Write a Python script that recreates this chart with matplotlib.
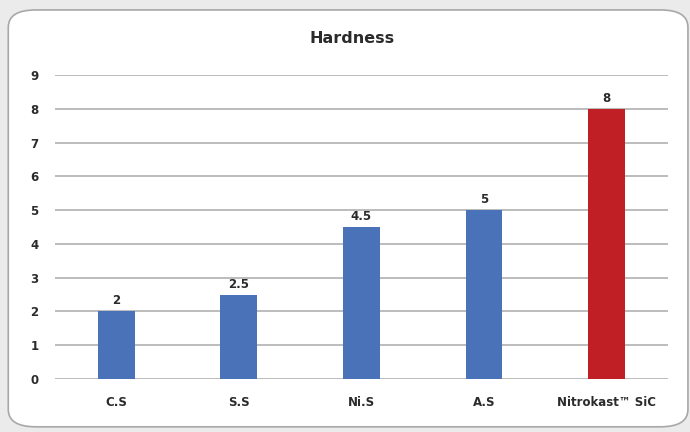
import matplotlib
matplotlib.use("Agg")
import matplotlib.pyplot as plt
from matplotlib.patches import FancyBboxPatch

plt.rcParams['font.family'] = ['DejaVu Sans']

categories = ["C.S", "S.S", "Ni.S", "A.S", "Nitrokast\u2122 SiC"]
hardness = [2, 2.5, 4.5, 5, 8]
value_labels = ["2", "2.5", "4.5", "5", "8"]
bar_colors = ["#4a72b8", "#4a72b8", "#4a72b8", "#4a72b8", "#c01f26"]

fig = plt.figure(figsize=(6.9, 4.32), dpi=100)
fig.patch.set_facecolor("#ebebeb")

# rounded white panel behind the chart
panel = FancyBboxPatch((0.012, 0.012), 0.985, 0.965,
                       boxstyle="round,pad=0,rounding_size=0.04",
                       transform=fig.transFigure, facecolor="white",
                       edgecolor="#a8a8a8", linewidth=1.2, zorder=-1)
fig.patches.append(panel)

ax = fig.add_axes([0.0797, 0.1227, 0.8883, 0.7033])
ax.set_zorder(1)
ax.set_facecolor("none")
x = range(len(categories))
bars = ax.bar(x, hardness, width=0.3, color=bar_colors, zorder=3)

for b, lab in zip(bars, value_labels):
    ax.text(b.get_x() + b.get_width() / 2, b.get_height() + 0.12, lab,
            ha="center", va="bottom", fontsize=8.5, fontweight="bold",
            color="#2b2b2b")

ax.set_xlim(-0.5, len(categories) - 0.5)
ax.set_ylim(0, 9)
ax.set_yticks(range(0, 10))
ax.yaxis.grid(True, color="#b0b0b0", linewidth=1.2, zorder=0)
ax.set_axisbelow(True)
for s in ax.spines.values():
    s.set_visible(False)
ax.tick_params(axis="both", length=0, labelsize=8.5, colors="#2b2b2b")
ax.tick_params(axis="y", pad=12)
ax.tick_params(axis="x", pad=12)
ax.set_xticks(list(x))
ax.set_xticklabels(categories, fontweight="bold")
for t in ax.get_yticklabels():
    t.set_fontweight("bold")

fig.text(0.51, 0.912, "Hardness", ha="center", va="center",
         fontsize=11.5, fontweight="bold", color="#2b2b2b")

fig.savefig("out.png", dpi=100, facecolor=fig.get_facecolor())
